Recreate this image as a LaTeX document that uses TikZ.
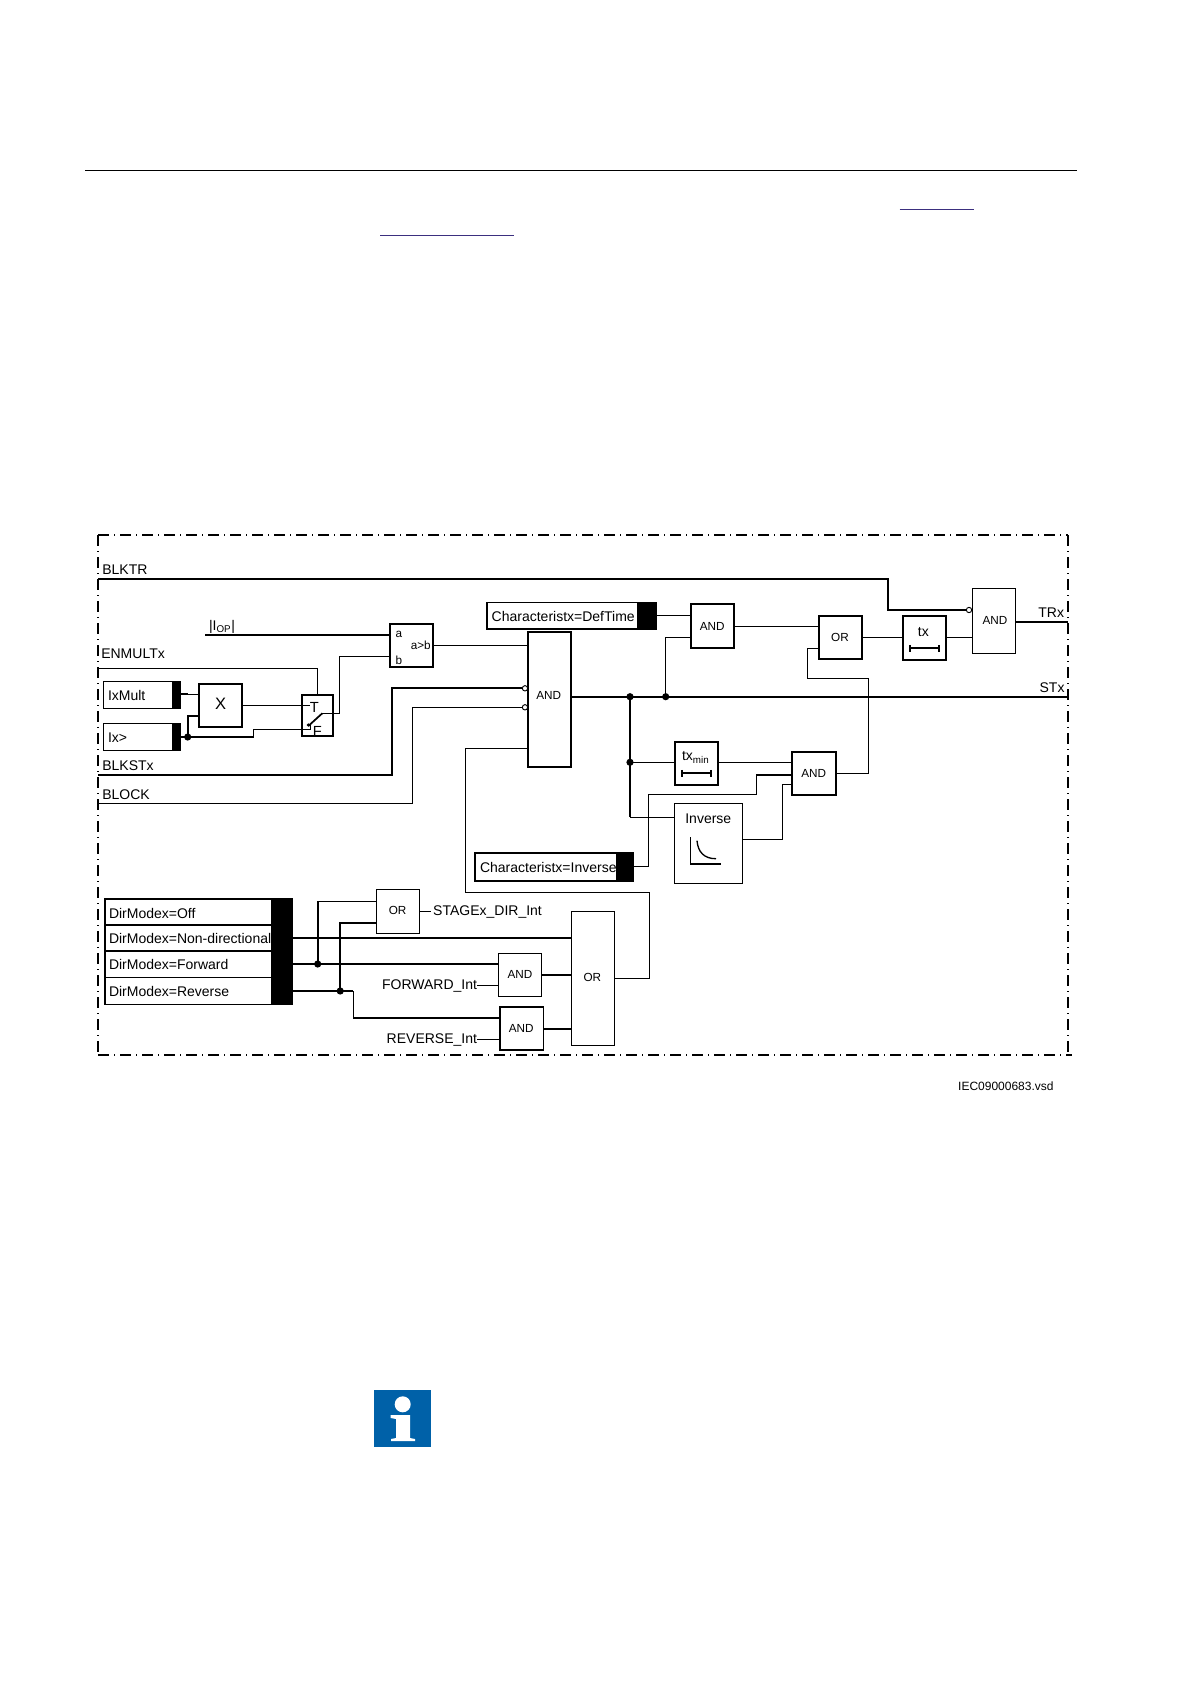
\documentclass[tikz,border=0pt]{standalone}
\usepackage{fontspec}
\setmainfont{Liberation Sans}
\definecolor{linkblue}{HTML}{3B2F7F}
\definecolor{infoblue}{HTML}{0061A8}
\newcommand{\rbox}[6]{%
  \pgfmathsetmacro\myw{(#4-#2)*0.75}\pgfmathsetmacro\myh{(#5-#3)*0.75}%
  \node[rbx,#6,minimum width=\myw pt,minimum height=\myh pt] (#1) at ({(#2+#4)/2},{(#3+#5)/2}) {};}
\tikzset{
  thn/.style={line width=0.75pt},
  mid/.style={line width=1pt},
  thk/.style={line width=1.3pt},
  rbx/.style={rectangle,draw,inner sep=0pt,outer sep=0pt,thn},
  blk/.style={fill=black},
  wire/.style={thn,line join=miter},
  bus/.style={thk,line join=miter},
  lbl/.style={inner sep=0pt,outer sep=0pt,yshift=-0.75pt,font=\fontsize{10.5}{12}\selectfont},
  gtx/.style={inner sep=0pt,outer sep=0pt,yshift=-0.75pt,font=\fontsize{8.8}{10}\selectfont},
  frm/.style={dash pattern=on 8.5pt off 3.5pt on 1pt off 3.5pt},
  neg/.style={circle,draw,fill=white,inner sep=0pt,outer sep=0pt,minimum size=4pt,line width=0.7pt},
  dotj/.style={fill=black}
}
\begin{document}
\begin{tikzpicture}[x=0.75pt,y=-0.75pt]
\useasboundingbox (0,0) rectangle (1191,1684);
% page marks
\draw[line width=1.2pt] (85,170.5) -- (1077,170.5);
\draw[linkblue,line width=0.8pt] (899.5,209.3) -- (973.5,209.3);
\draw[linkblue,line width=0.8pt] (380,235.3) -- (514,235.3);
% frame
\coordinate (fTL) at (98,535); \coordinate (fTR) at (1068,535);
\coordinate (fBL) at (98,1055); \coordinate (fBR) at (1072,1055);
\draw[frm,line width=1.2pt] (fTL) -- (fTR);
\draw[frm,line width=1.2pt] (fBL) -- (fBR);
\draw[frm,line width=0.8pt] (fTL) -- (fBL);
\draw[frm,line width=0.8pt] (fTR) -- (1068,1055);
% boxes
\rbox{cmp}{390.3}{623.7}{433.3}{667}{thk}
\rbox{mand}{527.7}{632}{571.3}{767}{thk}
\rbox{defbox}{487.3}{602.5}{655.7}{629}{thk}
\rbox{defblk}{638.3}{602.5}{655.7}{629}{thk,blk}
\rbox{andA}{690.7}{604.3}{734.3}{648.3}{thk}
\rbox{orA}{818.7}{615.7}{862.3}{659}{thk}
\rbox{txb}{902.7}{616.3}{946.3}{660}{thk}
\rbox{andT}{972}{588}{1015}{653}{thn}
\rbox{txm}{674.7}{742}{718.3}{785.3}{thk}
\rbox{andB}{792.3}{751.7}{835.7}{795}{thk}
\rbox{inv}{674.3}{803.7}{742.3}{883.3}{mid}
\rbox{invbox}{475.3}{852.7}{633}{880.7}{thk}
\rbox{invblk}{616.5}{852.7}{633}{880.7}{thk,blk}
\rbox{ixm}{103.3}{681.3}{180.7}{708.3}{thn}
\rbox{ixmb}{172}{681.3}{180.7}{708.3}{thn,blk}
\rbox{ixg}{103.3}{723.3}{180.7}{750.3}{thn}
\rbox{ixgb}{172}{723.3}{180.7}{750.3}{thn,blk}
\rbox{xb}{198.7}{683.7}{242.3}{727}{thk}
\rbox{sw}{301.7}{694.7}{333.3}{736.3}{thk}
\rbox{dOff}{104.9}{898.7}{292.4}{925.3}{thk}
\rbox{dNon}{104.9}{925.3}{292.4}{951}{thk}
\rbox{dFwd}{104.9}{951}{292.4}{977.3}{mid}
\rbox{dRev}{104.9}{977.3}{292.4}{1004.3}{mid}
\rbox{dblk}{272}{898.7}{292.4}{1004.3}{thk,blk}
\rbox{orS}{376.6}{889.3}{419.8}{933.3}{thn}
\rbox{andF}{498.3}{953.3}{541.5}{996.3}{thn}
\rbox{andR}{499.8}{1007.3}{543.4}{1050.3}{thk}
\rbox{orB}{571}{911.3}{614.2}{1045.3}{thn}
% box texts
\node[gtx] (tAm) at (548.7,694) {AND};
\node[gtx] (tA1) at (712.3,625.7) {AND};
\node[gtx] (tO1) at (840,636.7) {OR};
\node[gtx] (tAT) at (995,619) {AND};
\node[gtx] (tAB) at (813.7,772.7) {AND};
\node[gtx] (tOS) at (397.6,909.7) {OR};
\node[gtx] (tAF) at (520,973.7) {AND};
\node[gtx] (tAR) at (521.3,1027.7) {AND};
\node[gtx] (tOB) at (592.4,976.7) {OR};
\node[gtx] (tCa) at (399,633) {a};
\node[gtx] (tCb) at (399,659) {b};
\node[gtx,anchor=east] (tCg) at (430.7,644) {a>b};
\node[lbl] (tTx) at (923.3,631.3) {tx};
\node[lbl] (tTm) at (695.7,756.5) {tx\textsubscript{min}};
\node[lbl] (tInv) at (708.3,818) {Inverse};
\node[lbl,font=\fontsize{12.4}{14}\selectfont] (tX) at (220.7,703.3) {X};
\node[lbl,font=\fontsize{11}{13}\selectfont] (tT) at (314.3,706) {T};
\node[lbl,font=\fontsize{11}{13}\selectfont] (tF) at (317.3,730.7) {F};
\node[lbl,anchor=west] (tDef) at (491.7,615) {Characteristx=DefTime};
\node[lbl,anchor=west] (tIv) at (480,866.5) {Characteristx=Inverse};
\node[lbl,anchor=west] (tIM) at (108,694.5) {IxMult};
\node[lbl,anchor=west] (tIG) at (108,736.3) {Ix>};
\node[lbl,anchor=west] (tD1) at (109,912) {DirModex=Off};
\node[lbl,anchor=west] (tD2) at (109,937.7) {DirModex=Non-directional};
\node[lbl,anchor=west] (tD3) at (109,963.3) {DirModex=Forward};
\node[lbl,anchor=west] (tD4) at (109,990.3) {DirModex=Reverse};
% free labels
\node[lbl,anchor=west] (lBT) at (102.3,568.5) {BLKTR};
\node[lbl,anchor=west] (lEN) at (101.3,652.3) {ENMULTx};
\node[lbl,anchor=west] (lBS) at (102.3,764.5) {BLKSTx};
\node[lbl,anchor=west] (lBL) at (102.3,794) {BLOCK};
\node[lbl,anchor=west] (lIO) at (209,626) {|I\textsubscript{OP}|};
\node[lbl,anchor=east] (lTR) at (1064,612) {TRx};
\node[lbl,anchor=east] (lST) at (1064.5,686.8) {STx};
\node[lbl,anchor=west] (lSD) at (433.2,910.7) {STAGEx\_DIR\_Int};
\node[lbl,anchor=east] (lFW) at (477,985) {FORWARD\_Int};
\node[lbl,anchor=east] (lRV) at (477,1039) {REVERSE\_Int};
\node[lbl,anchor=east,yshift=0.75pt,font=\fontsize{9}{11}\selectfont] (lIE) at (1053.6,1085.8) {IEC09000683.vsd};
% inverted inputs
\node[neg] (nA) at (525,688.3) {};
\node[neg] (nB) at (525,707.3) {};
\node[neg] (nT) at (969,610) {};
% free ends
\coordinate (inBT) at (98,579);
\coordinate (inEN) at (98,668.3);
\coordinate (inBS) at (98,775);
\coordinate (inBL) at (98,803.7);
\coordinate (inIO) at (205,635);
\coordinate (oTR) at (1068,622);
\coordinate (oST) at (1068,696.7);
% junctions
\coordinate (jS1) at (630,696.7);
\coordinate (jS2) at (665.7,696.7);
\coordinate (jS3) at (630,762.3);
\coordinate (jX) at (187.7,737);
\coordinate (jF) at (317.7,964);
\coordinate (jR) at (340.2,991);
% connectors
\draw[bus] (inBT) -- (887.7,579) -- (887.7,610) -- (nT.west);
\draw[wire] (inEN) -- (317.7,668.3) -- (sw.north -| 317.7,0);
\draw[bus] (inBS) -- (392,775) -- (392,688.3) -- (nA.west);
\draw[wire] (inBL) -- (412.3,803.7) -- (412.3,707.3) -- (nB.west);
\draw[bus] (inIO) -- (cmp.west |- 0,635);
\draw[wire] (cmp.east |- 0,645.7) -- (mand.west |- 0,645.7);
\draw[bus] (ixmb.east |- 0,694.3) -- (188,694.3);
\draw[wire] (188,694.3) -- (xb.west |- 0,694.3);
\draw[bus] (ixgb.east |- 0,737) -- (253.7,737);
\draw[wire] (253.7,737) -- (253.7,729.3) -- (310,729.3) -- (310,725);
\draw[bus] (jX) -- (187.7,716) -- (xb.west |- 0,716);
\draw[wire] (xb.east |- 0,705.3) -- (310,705.3);
\draw[thk] (308.3,726) -- (322.3,713.3);
\draw[wire] (322.3,713.3) -- (339.3,713.3) -- (339.3,656.3) -- (cmp.west |- 0,656.3);
\draw[mid] (465.3,892.3) -- (465.3,748.7);
\draw[wire] (465.3,748.7) -- (mand.west |- 0,748.7);
\draw[bus] (mand.east |- oST) -- (oST);
\draw[mid] (defblk.east |- 0,615.7) -- (andA.west |- 0,615.7);
\draw[mid] (jS2) -- (665.7,637.3) -- (andA.west |- 0,637.3);
\draw[wire] (andA.east |- 0,626.3) -- (orA.west |- 0,626.3);
\draw[wire] (orA.east |- 0,637) -- (txb.west |- 0,637);
\draw[wire] (txb.east |- 0,637) -- (andT.west |- 0,637);
\draw[mid] (andT.east |- oTR) -- (oTR);
\draw[wire] (orA.west |- 0,648.3) -- (807.3,648.3) -- (807.3,678.3) -- (868.3,678.3) -- (868.3,773.7);
\draw[mid] (868.3,773.7) -- (andB.east |- 0,773.7);
\draw[bus] (jS1) -- (630,817.3);
\draw[wire] (630,817.3) -- (inv.west |- 0,817.3);
\draw[wire] (jS3) -- (txm.west |- 0,762.3);
\draw[mid] (txm.east |- 0,762.3) -- (andB.west |- 0,762.3);
\draw[mid] (andB.west |- 0,775) -- (756.7,775) -- (756.7,794.3);
\draw[wire] (756.7,794.3) -- (648.3,794.3) -- (648.3,866) -- (invblk.east |- 0,866);
\draw[wire] (andB.west |- 0,784.3) -- (782,784.3) -- (782,839) -- (inv.east |- 0,839);
\draw[bus] (dblk.east |- 0,938) -- (orB.west |- 0,938);
\draw[bus] (dblk.east |- 0,964) -- (andF.west |- 0,964);
\draw[bus] (jF) -- (317.7,901.3);
\draw[wire] (317.7,901.3) -- (orS.west |- 0,901.3);
\draw[bus] (dblk.east |- 0,991) -- (353.2,991);
\draw[mid] (353.2,991) -- (353.2,1018) -- (andR.west |- 0,1018);
\draw[bus] (jR) -- (340.2,923) -- (orS.west |- 0,923);
\draw[wire] (orS.east |- 0,911.3) -- (430.6,911.3);
\draw[wire] (lFW.east |- 0,985) -- (andF.west |- 0,985);
\draw[wire] (lRV.east |- 0,1039.3) -- (andR.west |- 0,1039.3);
\draw[bus] (andF.east |- 0,975) -- (orB.west |- 0,975);
\draw[bus] (andR.east |- 0,1029) -- (orB.west |- 0,1029);
\draw[wire] (orB.east |- 0,978) -- (649.5,978) -- (649.5,892.3) -- (465.3,892.3);
% junction dots
\foreach \j in {jS1,jS2,jS3,jX,jF,jR} \fill[dotj] (\j) circle[radius=2.7pt];
\fill[dotj] (308.3,725) circle[radius=1.3pt];
% timer symbols
\draw[thk] (909.7,648.3) -- (938.7,648.3);
\draw[thk] (909.7,644.8) -- (909.7,651.8);
\draw[thk] (938.7,644.8) -- (938.7,651.8);
\draw[thk] (681.7,773.3) -- (710.7,773.3);
\draw[thk] (681.7,769.8) -- (681.7,776.8);
\draw[thk] (710.7,769.8) -- (710.7,776.8);
% inverse curve
\draw[mid] (690.7,837.3) -- (690.7,864) -- (720.7,864);
\draw[mid] (697,840.7) .. controls (698,852) and (704,858.7) .. (716,858.7);
% info icon
\fill[infoblue] (374,1390) rectangle (431,1446.7);
\fill[white] (402.7,1404.3) circle[radius=6pt];
\fill[white] (390.7,1415) -- (410,1415) -- (410,1438) -- (415,1439) -- (415,1441) -- (391,1441) -- (391,1439) -- (396,1438) -- (396,1419) -- (390.7,1418) -- cycle;
\end{tikzpicture}
\end{document}
